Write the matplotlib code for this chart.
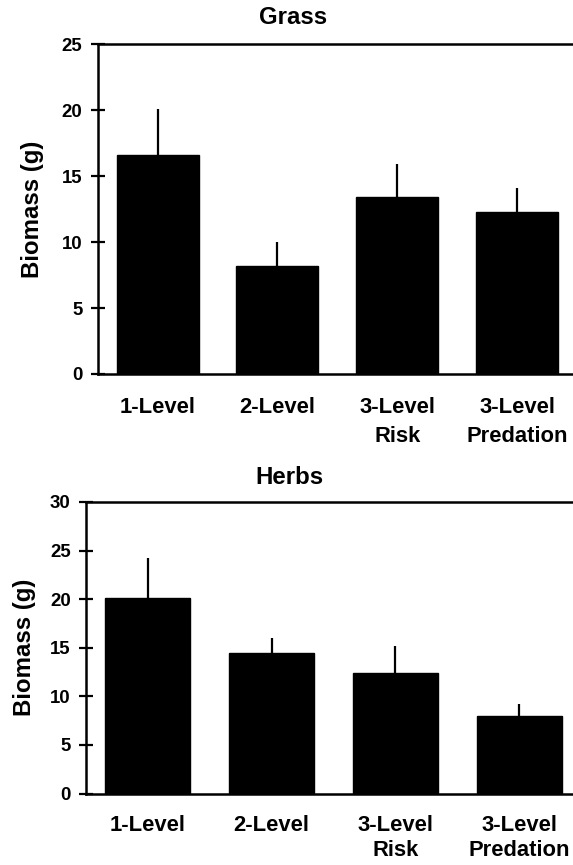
import matplotlib
matplotlib.use("Agg")
import matplotlib.pyplot as plt

plt.rcParams['font.family'] = ['Liberation Sans', 'DejaVu Sans']
plt.rcParams['font.weight'] = 'bold'

categories = ["1-Level", "2-Level", "3-Level\nRisk", "3-Level\nPredation"]

grass_mean = [16.6, 8.2, 13.4, 12.3]
grass_err = [3.5, 1.8, 2.5, 1.8]
grass_yticks = [0, 5, 10, 15, 20, 25]

herbs_mean = [20.15, 14.45, 12.35, 7.95]
herbs_err = [4.05, 1.55, 2.8, 1.3]
herbs_yticks = [0, 5, 10, 15, 20, 25, 30]

W, H = 573, 865
fig = plt.figure(figsize=(W / 100, H / 100), dpi=100)


def px_axes(x0, x1, y0, y1):
    return fig.add_axes([x0 / W, 1 - y1 / H, (x1 - x0) / W, (y1 - y0) / H])


def draw(ax, means, errs, yticks, title, title_x, title_y, ylab_x, xpad,
         lsp):
    x = list(range(len(means)))
    ax.bar(x, means, width=0.685, color='black', edgecolor='black', zorder=2)
    ax.errorbar(x, means, yerr=[[0] * len(errs), errs], fmt='none',
                ecolor='black', elinewidth=1.6, capsize=0, zorder=1)
    ax.set_xlim(-0.5, 3.5)
    ax.set_ylim(yticks[0], yticks[-1])
    ax.set_yticks(yticks)
    ax.set_xticks(x)
    ax.set_xticklabels(categories, fontsize=15.8, fontweight='bold',
                       linespacing=lsp)
    ax.tick_params(axis='x', length=0, pad=xpad)
    ax.tick_params(axis='y', direction='inout', length=10, width=1.6,
                   pad=6, labelsize=13.4)
    for lab in ax.get_yticklabels():
        lab.set_fontweight('bold')
    for s in ['left', 'top', 'bottom']:
        ax.spines[s].set_linewidth(1.8)
    ax.spines['right'].set_visible(False)
    ax.text(title_x, title_y, title, transform=ax.transAxes, ha='center',
            va='center', fontsize=17.3, fontweight='bold')
    ax.text(ylab_x, 0.5, "Biomass (g)", transform=ax.transAxes, rotation=90,
            ha='center', va='center', fontsize=17.3, fontweight='bold')


ax1 = px_axes(97.7, 577, 44.3, 374)
draw(ax1, grass_mean, grass_err, grass_yticks, "Grass",
     (292.7 - 97.7) / 479.3, 1 + (44.3 - 18) / 329.7, (32 - 97.7) / 479.3,
     16.5, 1.5)

ax2 = px_axes(86, 581, 502, 793.5)
draw(ax2, herbs_mean, herbs_err, herbs_yticks, "Herbs",
     (289.7 - 86) / 495, 1 + (502 - 478) / 291.5, (24 - 86) / 495,
     15.5, 1.25)

fig.savefig("out.png", dpi=100)
